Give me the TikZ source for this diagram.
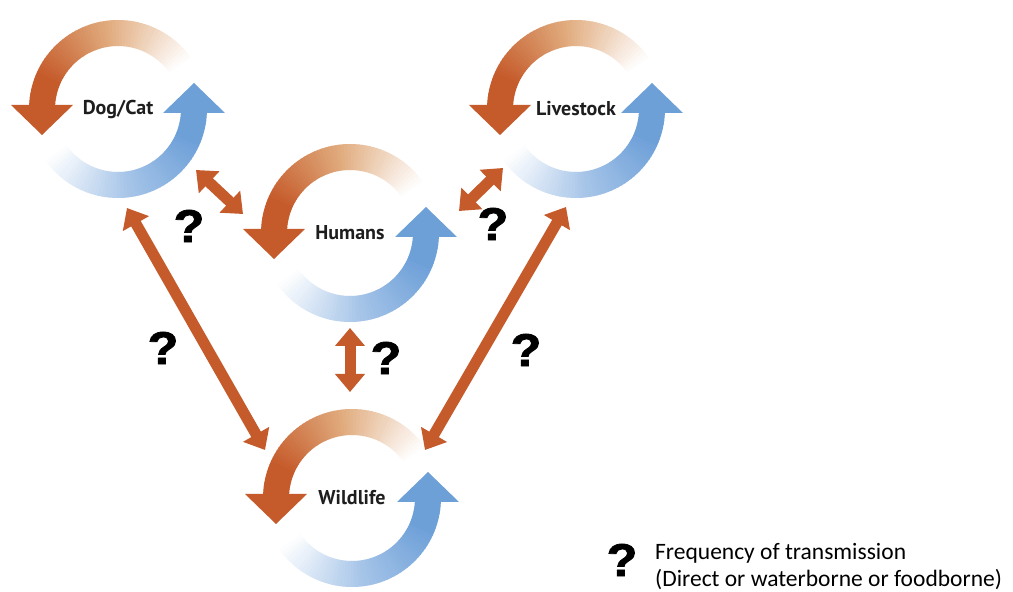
\documentclass[tikz,border=0pt]{standalone}
\usepackage{fontspec}
\setmainfont{Carlito}
\newfontfamily\lblfont{PT Sans}
\newfontfamily\qfont{Liberation Sans}[BoldFeatures={FakeBold=1.6}]
\usetikzlibrary{arrows.meta}
\definecolor{orng}{RGB}{197,90,42}
\definecolor{tanc}{RGB}{224,170,124}
\definecolor{blu}{RGB}{110,160,216}
\definecolor{blul}{RGB}{165,196,232}
\definecolor{lbl}{RGB}{30,30,30}
\tikzset{
  cyclabel/.style={text=lbl,font=\lblfont\bfseries\fontsize{20}{20}\selectfont,inner sep=0pt},
  qmark/.style={font=\qfont\bfseries\fontsize{46}{46}\selectfont,inner sep=0pt,text=black,xscale=1.1},
  dblarrow/.style={draw=orng,line width=11pt,
    {Triangle[width=29pt,length=18pt]}-{Triangle[width=29pt,length=18pt]}},
  legtext/.style={font=\fontsize{23.5}{27}\selectfont,inner sep=0pt,text=black,anchor=base west}
}
\newcommand\zcyc[3]{%
  \begin{scope}[shift={#2}]
    \foreach \i in {0,...,59}{
      \pgfmathsetmacro\aa{180-\i*2.45}
      \pgfmathsetmacro\ab{\aa-2.95}
      \pgfmathsetmacro\ba{-\i*2.45}
      \pgfmathsetmacro\bb{\ba-2.95}
      \pgfmathtruncatemacro\qq{\i<9 ? 100 : (\i<33 ? 100*(33-\i)/24 : 0)}
      \pgfmathtruncatemacro\rr{\i<33 ? 100 : 100*(59-\i)/26}
      \fill[orng!\qq!tanc!\rr!white] (\aa:89pt) arc[start angle=\aa,end angle=\ab,radius=89pt]
        -- (\ab:63pt) arc[start angle=\ab,end angle=\aa,radius=63pt] -- cycle;
      \fill[blu!\qq!blul!\rr!white] (\ba:89pt) arc[start angle=\ba,end angle=\bb,radius=89pt]
        -- (\bb:63pt) arc[start angle=\bb,end angle=\ba,radius=63pt] -- cycle;
    }
    \fill[orng] (-107pt,4pt) -- (-45pt,4pt) -- (-76pt,-26pt) -- cycle;
    \fill[blu] (45pt,-4pt) -- (107pt,-4pt) -- (76pt,26pt) -- cycle;
  \end{scope}
  \node[cyclabel] (#1) at #2 {#3};
}
\begin{document}
\begin{tikzpicture}[x=1pt,y=1pt]
\useasboundingbox[fill=white] (0,0) rectangle (1013,592);
\zcyc{dc}{(118,483)}{Dog/Cat}
\zcyc{hu}{(350,359)}{Humans}
\zcyc{lv}{(576,483)}{Livestock}
\zcyc{wl}{(352,94)}{Wildlife}
% arrow end points
\coordinate (a1s) at (196,422); \coordinate (a1e) at (243,378);
\coordinate (a2s) at (503,424); \coordinate (a2e) at (459,381);
\coordinate (a3s) at (127,384); \coordinate (a3e) at (265,142);
\coordinate (a4s) at (566,385); \coordinate (a4e) at (425,142);
\coordinate (a5s) at (350,264); \coordinate (a5e) at (350,200);
\draw[dblarrow] (a1s) -- (a1e);
\draw[dblarrow] (a2s) -- (a2e);
\draw[dblarrow] (a3s) -- (a3e);
\draw[dblarrow] (a4s) -- (a4e);
\draw[dblarrow] (a5s) -- (a5e);
% question marks
\node[qmark] (q1) at (189,366) {?};
\node[qmark] (q2) at (493,368) {?};
\node[qmark] (q3) at (163,244) {?};
\node[qmark] (q4) at (386,234) {?};
\node[qmark] (q5) at (526,242) {?};
\node[qmark] (q6) at (622,32) {?};
\node[legtext] (leg1) at (655,32) {Frequency of transmission};
\node[legtext] (leg2) at (655,5) {(Direct or waterborne or foodborne)};
\end{tikzpicture}
\end{document}
